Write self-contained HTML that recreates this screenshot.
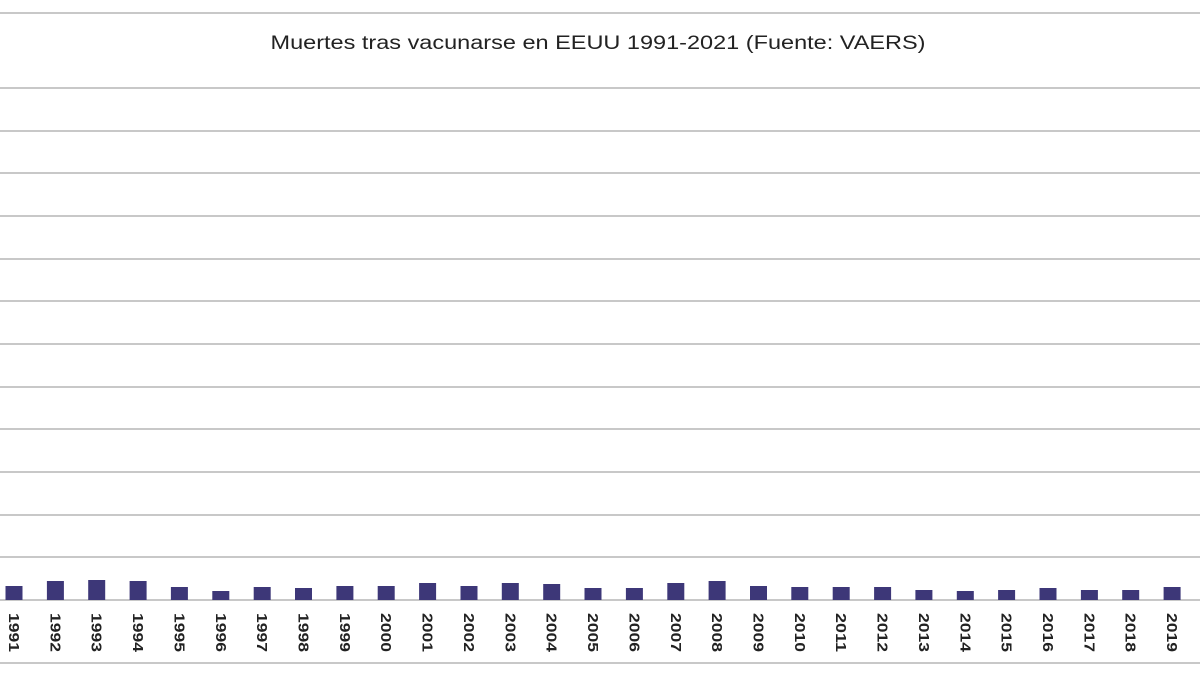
<!DOCTYPE html>
<html><head><meta charset="utf-8"><style>html,body{margin:0;padding:0;background:#fff}svg{display:block}</style></head>
<body>
<svg width="1200" height="675" xmlns="http://www.w3.org/2000/svg">
<rect width="1200" height="675" fill="#fff"/>
<g stroke="#c8c8c8" stroke-width="2">
<line x1="0" y1="13" x2="1200" y2="13"/>
<line x1="0" y1="88" x2="1200" y2="88"/>
<line x1="0" y1="131" x2="1200" y2="131"/>
<line x1="0" y1="173" x2="1200" y2="173"/>
<line x1="0" y1="216" x2="1200" y2="216"/>
<line x1="0" y1="259" x2="1200" y2="259"/>
<line x1="0" y1="301" x2="1200" y2="301"/>
<line x1="0" y1="344" x2="1200" y2="344"/>
<line x1="0" y1="387" x2="1200" y2="387"/>
<line x1="0" y1="429" x2="1200" y2="429"/>
<line x1="0" y1="472" x2="1200" y2="472"/>
<line x1="0" y1="515" x2="1200" y2="515"/>
<line x1="0" y1="557" x2="1200" y2="557"/>
<line x1="0" y1="600" x2="1200" y2="600"/>
<line x1="0" y1="663" x2="1200" y2="663"/>
</g>
<text x="598" y="49" text-anchor="middle" font-family="Liberation Sans, sans-serif" font-size="19" fill="#222" textLength="655" lengthAdjust="spacingAndGlyphs">Muertes tras vacunarse en EEUU 1991-2021 (Fuente: VAERS)</text>
<g fill="#3d3778">
<rect x="5.5" y="586" width="17" height="14"/>
<rect x="46.9" y="581" width="17" height="19"/>
<rect x="88.2" y="580" width="17" height="20"/>
<rect x="129.6" y="581" width="17" height="19"/>
<rect x="170.9" y="587" width="17" height="13"/>
<rect x="212.3" y="591" width="17" height="9"/>
<rect x="253.7" y="587" width="17" height="13"/>
<rect x="295" y="588" width="17" height="12"/>
<rect x="336.4" y="586" width="17" height="14"/>
<rect x="377.7" y="586" width="17" height="14"/>
<rect x="419.1" y="583" width="17" height="17"/>
<rect x="460.5" y="586" width="17" height="14"/>
<rect x="501.8" y="583" width="17" height="17"/>
<rect x="543.2" y="584" width="17" height="16"/>
<rect x="584.5" y="588" width="17" height="12"/>
<rect x="625.9" y="588" width="17" height="12"/>
<rect x="667.3" y="583" width="17" height="17"/>
<rect x="708.6" y="581" width="17" height="19"/>
<rect x="750" y="586" width="17" height="14"/>
<rect x="791.3" y="587" width="17" height="13"/>
<rect x="832.7" y="587" width="17" height="13"/>
<rect x="874.1" y="587" width="17" height="13"/>
<rect x="915.4" y="590" width="17" height="10"/>
<rect x="956.8" y="591" width="17" height="9"/>
<rect x="998.1" y="590" width="17" height="10"/>
<rect x="1039.5" y="588" width="17" height="12"/>
<rect x="1080.9" y="590" width="17" height="10"/>
<rect x="1122.2" y="590" width="17" height="10"/>
<rect x="1163.6" y="587" width="17" height="13"/>
</g>
<g font-family="Liberation Sans, sans-serif" font-size="15" font-weight="bold" fill="#222">
<text transform="translate(9,613) rotate(90)" textLength="39" lengthAdjust="spacingAndGlyphs">1991</text>
<text transform="translate(50.4,613) rotate(90)" textLength="39" lengthAdjust="spacingAndGlyphs">1992</text>
<text transform="translate(91.7,613) rotate(90)" textLength="39" lengthAdjust="spacingAndGlyphs">1993</text>
<text transform="translate(133.1,613) rotate(90)" textLength="39" lengthAdjust="spacingAndGlyphs">1994</text>
<text transform="translate(174.4,613) rotate(90)" textLength="39" lengthAdjust="spacingAndGlyphs">1995</text>
<text transform="translate(215.8,613) rotate(90)" textLength="39" lengthAdjust="spacingAndGlyphs">1996</text>
<text transform="translate(257.2,613) rotate(90)" textLength="39" lengthAdjust="spacingAndGlyphs">1997</text>
<text transform="translate(298.5,613) rotate(90)" textLength="39" lengthAdjust="spacingAndGlyphs">1998</text>
<text transform="translate(339.9,613) rotate(90)" textLength="39" lengthAdjust="spacingAndGlyphs">1999</text>
<text transform="translate(381.2,613) rotate(90)" textLength="39" lengthAdjust="spacingAndGlyphs">2000</text>
<text transform="translate(422.6,613) rotate(90)" textLength="39" lengthAdjust="spacingAndGlyphs">2001</text>
<text transform="translate(464,613) rotate(90)" textLength="39" lengthAdjust="spacingAndGlyphs">2002</text>
<text transform="translate(505.3,613) rotate(90)" textLength="39" lengthAdjust="spacingAndGlyphs">2003</text>
<text transform="translate(546.7,613) rotate(90)" textLength="39" lengthAdjust="spacingAndGlyphs">2004</text>
<text transform="translate(588,613) rotate(90)" textLength="39" lengthAdjust="spacingAndGlyphs">2005</text>
<text transform="translate(629.4,613) rotate(90)" textLength="39" lengthAdjust="spacingAndGlyphs">2006</text>
<text transform="translate(670.8,613) rotate(90)" textLength="39" lengthAdjust="spacingAndGlyphs">2007</text>
<text transform="translate(712.1,613) rotate(90)" textLength="39" lengthAdjust="spacingAndGlyphs">2008</text>
<text transform="translate(753.5,613) rotate(90)" textLength="39" lengthAdjust="spacingAndGlyphs">2009</text>
<text transform="translate(794.8,613) rotate(90)" textLength="39" lengthAdjust="spacingAndGlyphs">2010</text>
<text transform="translate(836.2,613) rotate(90)" textLength="39" lengthAdjust="spacingAndGlyphs">2011</text>
<text transform="translate(877.6,613) rotate(90)" textLength="39" lengthAdjust="spacingAndGlyphs">2012</text>
<text transform="translate(918.9,613) rotate(90)" textLength="39" lengthAdjust="spacingAndGlyphs">2013</text>
<text transform="translate(960.3,613) rotate(90)" textLength="39" lengthAdjust="spacingAndGlyphs">2014</text>
<text transform="translate(1001.6,613) rotate(90)" textLength="39" lengthAdjust="spacingAndGlyphs">2015</text>
<text transform="translate(1043,613) rotate(90)" textLength="39" lengthAdjust="spacingAndGlyphs">2016</text>
<text transform="translate(1084.4,613) rotate(90)" textLength="39" lengthAdjust="spacingAndGlyphs">2017</text>
<text transform="translate(1125.7,613) rotate(90)" textLength="39" lengthAdjust="spacingAndGlyphs">2018</text>
<text transform="translate(1167.1,613) rotate(90)" textLength="39" lengthAdjust="spacingAndGlyphs">2019</text>
</g>
</svg>
</body></html>
